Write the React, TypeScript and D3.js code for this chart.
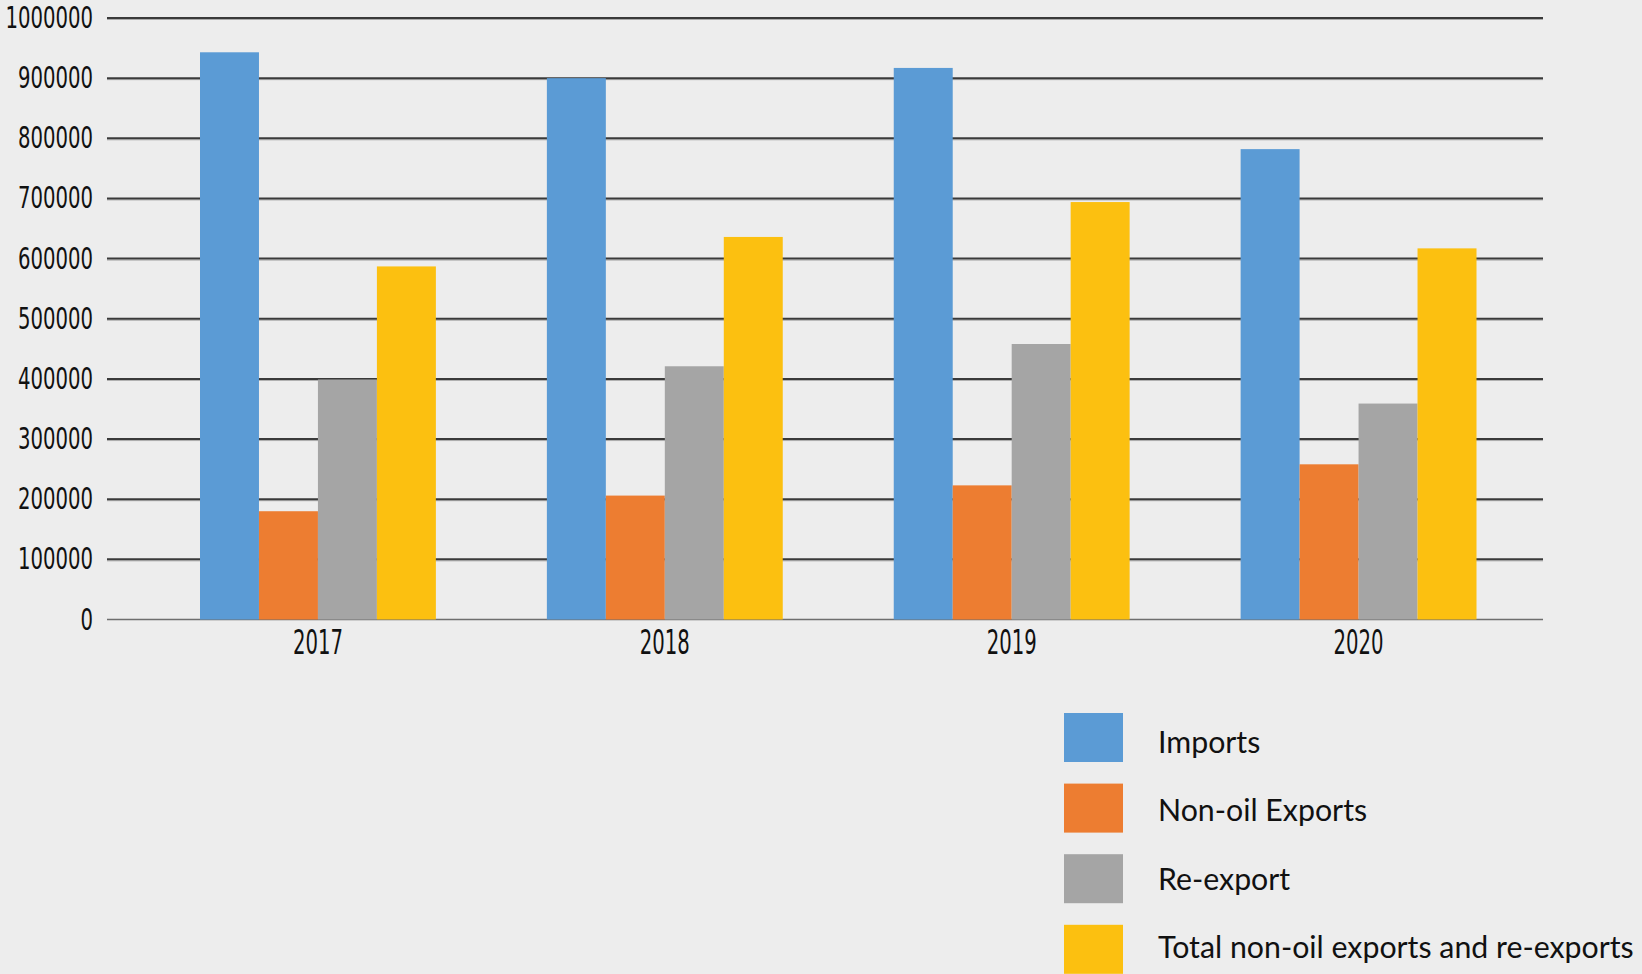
import React from "react";
import * as d3 from "d3";

const years = ["2017", "2018", "2019", "2020"];
const seriesNames = ["Imports", "Non-oil Exports", "Re-export", "Total non-oil exports and re-exports"];
const imports = [943000, 900000, 917000, 782000];
const nonOilExports = [180000, 206000, 223000, 258000];
const reExport = [399000, 421000, 458000, 359000];
const totalNonOil = [587000, 636000, 694000, 617000];
const seriesColors = ["#5B9BD5", "#ED7D31", "#A5A5A5", "#FCC010"];
const yTicks = [0, 100000, 200000, 300000, 400000, 500000, 600000, 700000, 800000, 900000, 1000000];

const W = 1642;
const H = 974;

export default function App() {
  if (typeof document !== "undefined") document.body.style.margin = "0";
  const seriesValues = [imports, nonOilExports, reExport, totalNonOil];
  const y = d3.scaleLinear().domain([0, 1000000]).range([619.5, 18]);
  const x = d3.scaleBand<string>().domain(years).range([200, 1476.5]).paddingInner(0.32).paddingOuter(0);
  const xi = d3.scaleBand<number>().domain(d3.range(4)).range([0, x.bandwidth()]).padding(0);
  const gridX0 = 107;
  const gridX1 = 1543;
  const condensed = "'Liberation Sans Narrow', 'DejaVu Sans Condensed', Roboto, sans-serif";

  return (
    <svg width={W} height={H} style={{ position: "absolute", left: 0, top: 0, display: "block" }}>
      <rect x={0} y={0} width={W} height={H} fill="#EDEDED" />
      {yTicks.filter((t) => t > 0).map((t) => (
        <g key={t}>
          <line x1={gridX0} x2={gridX1} y1={y(t) + 1.5} y2={y(t) + 1.5} stroke="#AAAAAA" strokeWidth={1} />
          <line x1={gridX0} x2={gridX1} y1={y(t)} y2={y(t)} stroke="#3A3A3A" strokeWidth={2} />
        </g>
      ))}
      <line x1={gridX0} x2={gridX1} y1={y(0)} y2={y(0)} stroke="#6E6E6E" strokeWidth={1.5} />
      {yTicks.map((t) => {
        const s = String(t);
        return (
          <text
            key={t}
            x={93}
            y={y(t) + 10}
            textAnchor="end"
            fontFamily={condensed}
            fontSize={30.5}
            fill="#111"
            textLength={s.length * 12.5}
            lengthAdjust="spacingAndGlyphs"
          >
            {s}
          </text>
        );
      })}
      {years.map((yr, gi) => (
        <g key={yr} transform={`translate(${x(yr)},0)`}>
          {seriesValues.map((vals, si) => (
            <rect
              key={si}
              x={xi(si)}
              y={y(vals[gi])}
              width={xi.bandwidth()}
              height={y(0) - y(vals[gi])}
              fill={seriesColors[si]}
            />
          ))}
        </g>
      ))}
      {years.map((yr) => (
        <text
          key={yr}
          x={(x(yr) as number) + x.bandwidth() / 2}
          y={654}
          textAnchor="middle"
          fontFamily={condensed}
          fontSize={33}
          fill="#111"
          textLength={yr.length * 12.5}
          lengthAdjust="spacingAndGlyphs"
        >
          {yr}
        </text>
      ))}
      {seriesNames.map((name, i) => (
        <g key={name}>
          <rect x={1064} y={713 + i * 70.6} width={59} height={49} fill={seriesColors[i]} />
          <text x={1158} y={753 + i * 68.3} fontFamily="Lato, 'Open Sans', sans-serif" fontSize={30.3} fill="#111">
            {name}
          </text>
        </g>
      ))}
    </svg>
  );
}
